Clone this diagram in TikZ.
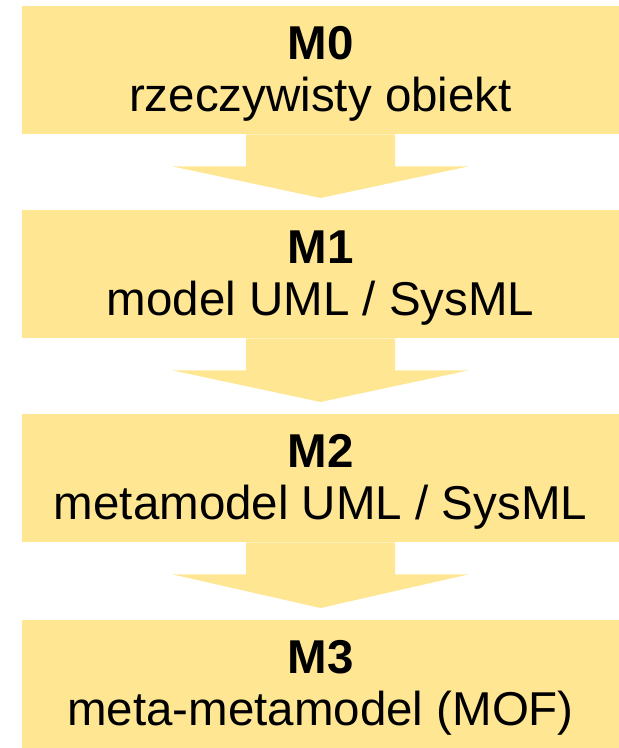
\documentclass[tikz,border=0pt]{standalone}
\usepackage{fontspec}
\setmainfont{Liberation Sans}
\definecolor{levelfill}{HTML}{FFE692}

\begin{document}
\begin{tikzpicture}[x=1pt, y=1pt,
    levelStyle/.style={rectangle, fill=levelfill, minimum width=597pt, minimum height=128pt, inner sep=0pt, anchor=north},
    descStyle/.style={anchor=base, inner sep=0pt, font=\fontsize{47.5}{52}\selectfont},
    nameStyle/.style={descStyle, font=\fontsize{47.5}{52}\selectfont\bfseries}]
    \useasboundingbox (0,0) rectangle (619,-748);

    \node[levelStyle](m0) at (320.5, -6) {};
    \node[levelStyle](m1) at (320.5, -210) {};
    \node[levelStyle](m2) at (320.5, -414) {};
    \node[levelStyle](m3) at (320.5, -620) {};

    % arrows between the levels
    \foreach \a/\b in {m0/m1, m1/m2, m2/m3}
        \fill[levelfill] ([xshift=-74.5pt]\a.south) -- ++(0,-32) -- ++(-73.5,0)
            -- ([yshift=12pt]\b.north) -- ([xshift=148pt, yshift=-32pt]\a.south)
            -- ++(-73.5,0) -- ([xshift=74.5pt]\a.south) -- cycle;

    \node[nameStyle](m0name) at ([yshift=-53pt]m0.north) {M0};
    \node[descStyle](m0desc) at ([yshift=-105pt]m0.north) {rzeczywisty obiekt};
    \node[nameStyle](m1name) at ([yshift=-53pt]m1.north) {M1};
    \node[descStyle](m1desc) at ([yshift=-105pt]m1.north) {model UML / SysML};
    \node[nameStyle](m2name) at ([yshift=-53pt]m2.north) {M2};
    \node[descStyle](m2desc) at ([yshift=-105pt]m2.north) {metamodel UML / SysML};
    \node[nameStyle](m3name) at ([yshift=-53pt]m3.north) {M3};
    \node[descStyle](m3desc) at ([yshift=-105pt]m3.north) {meta-metamodel (MOF)};
\end{tikzpicture}
\end{document}
